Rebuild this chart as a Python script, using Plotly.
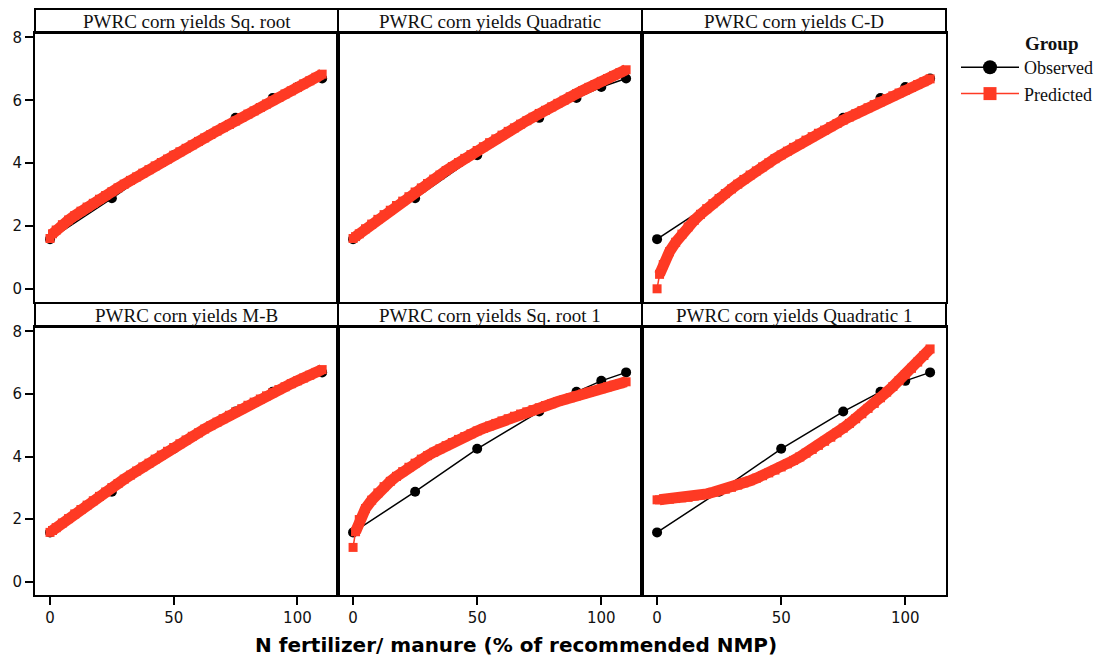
import plotly.graph_objects as go

# ---- data -------------------------------------------------------------
PANEL_TITLES = [
    "PWRC corn yields Sq. root",
    "PWRC corn yields Quadratic",
    "PWRC corn yields C-D",
    "PWRC corn yields M-B",
    "PWRC corn yields Sq. root 1",
    "PWRC corn yields Quadratic 1",
]

# observed corn yields (same measurements in every panel)
OBS_X = [0, 25, 50, 75, 90, 100, 110]
OBS_Y = [1.58, 2.88, 4.25, 5.44, 6.07, 6.42, 6.69]

# N rate grid for the model predictions
PRED_X = [0, 1, 2.5, 5, 7.5, 10, 12.5, 15, 17.5, 20, 22.5, 25, 27.5, 30, 32.5,
          35, 37.5, 40, 42.5, 45, 47.5, 50, 52.5, 55, 57.5, 60, 62.5, 65, 67.5,
          70, 72.5, 75, 77.5, 80, 82.5, 85, 87.5, 90, 92.5, 95, 97.5, 100,
          102.5, 105, 107.5, 110]

PRED_SQROOT = [1.60, 1.75, 1.87, 2.04, 2.19, 2.33, 2.47, 2.60, 2.72, 2.85, 2.97,
               3.09, 3.21, 3.33, 3.45, 3.56, 3.68, 3.79, 3.91, 4.02, 4.13, 4.25,
               4.36, 4.47, 4.58, 4.69, 4.80, 4.91, 5.02, 5.13, 5.23, 5.34, 5.45,
               5.56, 5.66, 5.77, 5.88, 5.99, 6.09, 6.20, 6.30, 6.41, 6.52, 6.62,
               6.73, 6.83]

PRED_QUAD = [1.60, 1.66, 1.75, 1.91, 2.06, 2.21, 2.36, 2.50, 2.65, 2.79, 2.93,
             3.08, 3.21, 3.35, 3.49, 3.62, 3.76, 3.89, 4.02, 4.15, 4.27, 4.40,
             4.52, 4.65, 4.77, 4.89, 5.01, 5.12, 5.24, 5.35, 5.46, 5.58, 5.68,
             5.79, 5.90, 6.00, 6.11, 6.21, 6.31, 6.41, 6.50, 6.60, 6.69, 6.79,
             6.88, 6.97]

PRED_CD = [0.00, 0.46, 0.77, 1.18, 1.48, 1.74, 1.97, 2.18, 2.37, 2.55, 2.71,
           2.87, 3.03, 3.18, 3.33, 3.48, 3.62, 3.75, 3.88, 4.01, 4.14, 4.26,
           4.38, 4.50, 4.61, 4.73, 4.84, 4.95, 5.05, 5.16, 5.26, 5.37, 5.47,
           5.57, 5.67, 5.76, 5.86, 5.95, 6.05, 6.14, 6.23, 6.32, 6.41, 6.50,
           6.59, 6.68]

PRED_MB = [1.58, 1.64, 1.73, 1.88, 2.02, 2.17, 2.31, 2.45, 2.59, 2.73, 2.87,
           3.01, 3.14, 3.28, 3.41, 3.54, 3.67, 3.79, 3.92, 4.05, 4.17, 4.29,
           4.41, 4.53, 4.65, 4.76, 4.88, 4.99, 5.10, 5.21, 5.32, 5.43, 5.53,
           5.64, 5.74, 5.84, 5.94, 6.04, 6.14, 6.23, 6.33, 6.42, 6.51, 6.60,
           6.69, 6.78]

PRED_SQROOT1 = [1.10, 1.60, 1.99, 2.34, 2.61, 2.84, 3.04, 3.21, 3.37, 3.52, 3.66,
                3.79, 3.92, 4.03, 4.14, 4.25, 4.35, 4.45, 4.55, 4.64, 4.73, 4.82,
                4.90, 4.98, 5.06, 5.14, 5.21, 5.29, 5.36, 5.43, 5.50, 5.56, 5.63,
                5.69, 5.76, 5.82, 5.88, 5.94, 6.00, 6.06, 6.11, 6.17, 6.23, 6.28,
                6.33, 6.39]

PRED_QUAD1 = [2.62, 2.62, 2.63, 2.64, 2.66, 2.68, 2.70, 2.74, 2.77, 2.81, 2.86,
              2.91, 2.96, 3.02, 3.09, 3.16, 3.23, 3.31, 3.39, 3.48, 3.57, 3.67,
              3.77, 3.88, 3.99, 4.11, 4.23, 4.36, 4.49, 4.62, 4.76, 4.91, 5.06,
              5.21, 5.37, 5.54, 5.70, 5.88, 6.06, 6.24, 6.43, 6.62, 6.82, 7.02,
              7.23, 7.44]

PREDICTIONS = [PRED_SQROOT, PRED_QUAD, PRED_CD, PRED_MB, PRED_SQROOT1, PRED_QUAD1]

X_TICKS = [0, 50, 100]
Y_TICKS = [0, 2, 4, 6, 8]

# ---- geometry (pixels on a 1105 x 660 page) ---------------------------
W, H = 1105, 660
COL_PX = [(35, 338), (338, 642), (642, 946)]
ROW_PLOT_PX = [(33, 302), (327, 595)]     # top, bottom of plotting area
ROW_STRIP_PX = [(9, 33), (303, 327)]      # top, bottom of title strip

OBS_COLOR = "#000000"
PRED_COLOR = "#fe3a24"
SERIF = "Liberation Serif"
SANS = "DejaVu Sans"

fig = go.Figure()

layout = dict(
    width=W, height=H,
    margin=dict(l=0, r=0, t=0, b=0),
    paper_bgcolor="white", plot_bgcolor="white",
    showlegend=True,
    shapes=[], annotations=[],
)

for i, title in enumerate(PANEL_TITLES):
    r, c = divmod(i, 3)
    n = i + 1
    xa = "xaxis" if n == 1 else f"xaxis{n}"
    ya = "yaxis" if n == 1 else f"yaxis{n}"
    xref = "x" if n == 1 else f"x{n}"
    yref = "y" if n == 1 else f"y{n}"

    x0, x1 = COL_PX[c]
    top, bot = ROW_PLOT_PX[r]
    layout[xa] = dict(
        domain=[x0 / W, x1 / W], anchor=yref, range=[-6.07, 116.4],
        showgrid=False, zeroline=False, automargin=False,
        showline=True, mirror=True, linecolor="black", linewidth=2,
        tickvals=X_TICKS, ticks="outside" if r == 1 else "",
        ticklen=8, tickwidth=1.5, tickcolor="black",
        showticklabels=(r == 1),
        tickfont=dict(family=SANS, size=15, color="#111"),
    )
    layout[ya] = dict(
        domain=[(H - bot) / H, (H - top) / H], anchor=xref, range=[-0.42, 8.14],
        showgrid=False, zeroline=False, automargin=False,
        showline=True, mirror=True, linecolor="black", linewidth=2,
        tickvals=Y_TICKS, ticks="outside" if c == 0 else "",
        ticklen=8, tickwidth=1.5, tickcolor="black",
        showticklabels=(c == 0),
        tickfont=dict(family=SANS, size=15, color="#111"),
    )

    # title strip
    s_top, s_bot = ROW_STRIP_PX[r]
    layout["shapes"].append(dict(
        type="rect", xref="paper", yref="paper",
        x0=x0 / W, x1=x1 / W, y0=(H - s_bot) / H, y1=(H - s_top) / H,
        line=dict(color="black", width=2), fillcolor="white", layer="below",
    ))
    layout["annotations"].append(dict(
        xref="paper", yref="paper", x=(x0 + x1) / 2 / W,
        y=(H - (s_top + s_bot) / 2) / H, text=title, showarrow=False,
        xanchor="center", yanchor="middle",
        font=dict(family=SERIF, size=19, color="#111"),
    ))

    pred = PREDICTIONS[i]
    fig.add_trace(go.Scatter(
        x=OBS_X, y=OBS_Y, xaxis=xref, yaxis=yref, mode="lines+markers",
        name="Observed", legendgroup="obs", showlegend=False,
        line=dict(color=OBS_COLOR, width=1.5),
        marker=dict(symbol="circle", size=10, color=OBS_COLOR),
    ))
    # the dense run of predicted squares reads as one thick band
    fig.add_trace(go.Scatter(
        x=PRED_X[1:], y=pred[1:], xaxis=xref, yaxis=yref, mode="lines",
        legendgroup="pred", showlegend=False, hoverinfo="skip",
        line=dict(color=PRED_COLOR, width=11),
    ))
    fig.add_trace(go.Scatter(
        x=PRED_X, y=pred, xaxis=xref, yaxis=yref, mode="lines+markers",
        name="Predicted", legendgroup="pred", showlegend=False,
        line=dict(color=PRED_COLOR, width=1.5),
        marker=dict(symbol="square", size=9, color=PRED_COLOR),
    ))

# legend entries (larger symbols than in the panels)
fig.add_trace(go.Scatter(
    x=[None], y=[None], mode="lines+markers", name="Observed",
    legendgroup="obs", line=dict(color=OBS_COLOR, width=1.5),
    marker=dict(symbol="circle", size=14, color=OBS_COLOR),
))
fig.add_trace(go.Scatter(
    x=[None], y=[None], mode="lines+markers", name="Predicted",
    legendgroup="pred", line=dict(color=PRED_COLOR, width=1.5),
    marker=dict(symbol="square", size=13, color=PRED_COLOR),
))

# axis title shared by all panels
layout["annotations"].append(dict(
    xref="paper", yref="paper", x=516 / W, y=(H - 645) / H,
    text="<b>N fertilizer/ manure (% of recommended NMP)</b>", showarrow=False,
    xanchor="center", yanchor="middle",
    font=dict(family=SANS, size=20, color="black"),
))

# legend heading
layout["annotations"].append(dict(
    xref="paper", yref="paper", x=1023 / W, y=(H - 44) / H,
    text="<b>Group</b>", showarrow=False, xanchor="left", yanchor="middle",
    font=dict(family=SERIF, size=19, color="#111"),
))

layout["legend"] = dict(
    x=956 / W, y=(H - 49) / H, xanchor="left", yanchor="top",
    font=dict(family=SERIF, size=18, color="#111"),
    itemwidth=58, tracegroupgap=0, bgcolor="rgba(0,0,0,0)",
)

fig.update_layout(**layout)
fig.write_html("out.html")
